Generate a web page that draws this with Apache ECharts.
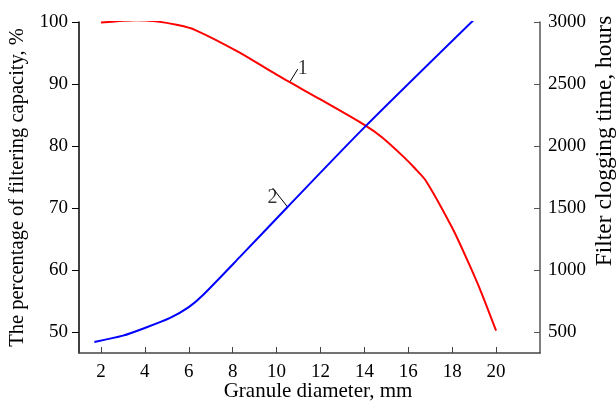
<!DOCTYPE html>
<html>
<head>
<meta charset="utf-8">
<script src="https://cdn.jsdelivr.net/npm/echarts@6/dist/echarts.min.js"></script>
<style>
  html, body { margin: 0; padding: 0; background: #fff; }
  #chart { width: 616px; height: 403px; }
</style>
</head>
<body>
<div id="chart"></div>
<script>
  // curve 1: percentage of filtering capacity (left axis)
  var capX = [2, 3, 3.6, 4.5, 5.5, 6.3, 8.3, 10, 12, 14, 14.8, 15.8, 16.3, 16.8, 18, 18.7, 19.3, 20];
  var capY = [99.9, 100.2, 100.3, 100.1, 99.5, 98.7, 95.1, 91.5, 87.5, 83.4, 81.4, 78.2, 76.4, 74.4, 66.8, 61.5, 56.6, 50.2];
  // curve 2: filter clogging time (right axis)
  var timeX = [1.7, 3, 4, 5.15, 6, 6.65, 8.33, 10.5, 14, 19];
  var timeY = [419, 470, 532, 613, 700, 798, 1105, 1508, 2150, 3020];
  var leftTicks = [50, 60, 70, 80, 90, 100];
  var rightTicks = [500, 1000, 1500, 2000, 2500, 3000];
  var xTicks = [2, 4, 6, 8, 10, 12, 14, 16, 18, 20];

  var font = 'Liberation Serif';
  var myChart = echarts.init(document.getElementById('chart'));
  var option = {
    animation: false,
    textStyle: { fontFamily: font, color: '#000' },
    grid: { left: 79, right: 76, top: 22, bottom: 50, outerBoundsMode: 'none', containLabel: false },
    xAxis: {
      type: 'value',
      min: 1,
      max: 22,
      axisLine: { lineStyle: { color: '#444', width: 1.5 } },
      axisTick: { inside: true, length: 6, customValues: xTicks, lineStyle: { color: '#444' } },
      axisLabel: { customValues: xTicks, margin: 10, fontFamily: font, fontSize: 19, color: '#000' },
      splitLine: { show: false }
    },
    yAxis: [
      {
        type: 'value',
        min: 46.6,
        max: 100,
        position: 'left',
        name: 'The percentage of filtering capacity, %',
        nameLocation: 'middle',
        nameGap: 44,
        nameTextStyle: { fontFamily: font, fontSize: 20.5, color: '#000' },
        axisLine: { show: true, lineStyle: { color: '#000', width: 1.5 } },
        axisTick: { show: true, length: 7, customValues: leftTicks, lineStyle: { color: '#000' } },
        axisLabel: { customValues: leftTicks, margin: 11, fontFamily: font, fontSize: 19, color: '#000' },
        splitLine: { show: false }
      },
      {
        type: 'value',
        min: 330,
        max: 3000,
        position: 'right',
        axisLine: { show: true, lineStyle: { color: '#555', width: 1.5 } },
        axisTick: { show: true, inside: true, length: 6, customValues: rightTicks, lineStyle: { color: '#555' } },
        axisLabel: {
          customValues: rightTicks, margin: 8, fontFamily: font, fontSize: 19, color: '#000',
          formatter: function (v) { return String(v); }
        },
        splitLine: { show: false }
      }
    ],
    graphic: [
      {
        type: 'text',
        x: 605,
        y: 141,
        rotation: Math.PI / 2,
        style: {
          text: 'Filter clogging time, hours',
          font: '23.5px "Liberation Serif"',
          fill: '#000',
          align: 'center',
          verticalAlign: 'middle'
        }
      },
      {
        type: 'text',
        x: 318,
        y: 391,
        style: {
          text: 'Granule diameter, mm',
          font: '21px "Liberation Serif"',
          fill: '#000',
          align: 'center',
          verticalAlign: 'middle'
        }
      }
    ],
    series: [
      {
        name: '1',
        type: 'line',
        yAxisIndex: 0,
        smooth: 0.25,
        symbol: 'none',
        lineStyle: { color: '#ff0000', width: 2 },
        data: capX.map(function (x, i) { return [x, capY[i]]; })
      },
      {
        name: '2',
        type: 'line',
        yAxisIndex: 1,
        smooth: 0.25,
        symbol: 'none',
        lineStyle: { color: '#0000ff', width: 2 },
        data: timeX.map(function (x, i) { return [x, timeY[i]]; })
      },
      {
        type: 'scatter',
        yAxisIndex: 0,
        symbolSize: 0,
        silent: true,
        data: [[10.6, 90.3]],
        label: { show: true, formatter: '1', fontFamily: font, fontSize: 20, color: '#000' },
        labelLayout: { dx: 13, dy: -13 },
        labelLine: { show: true, lineStyle: { color: '#000', width: 1 } }
      },
      {
        type: 'scatter',
        yAxisIndex: 1,
        symbolSize: 0,
        silent: true,
        data: [[10.5, 1508]],
        label: { show: true, formatter: '2', fontFamily: font, fontSize: 20, color: '#000' },
        labelLayout: { dx: -15, dy: -9 },
        labelLine: { show: true, lineStyle: { color: '#000', width: 1 } }
      }
    ]
  };
  myChart.setOption(option);
</script>
</body>
</html>
